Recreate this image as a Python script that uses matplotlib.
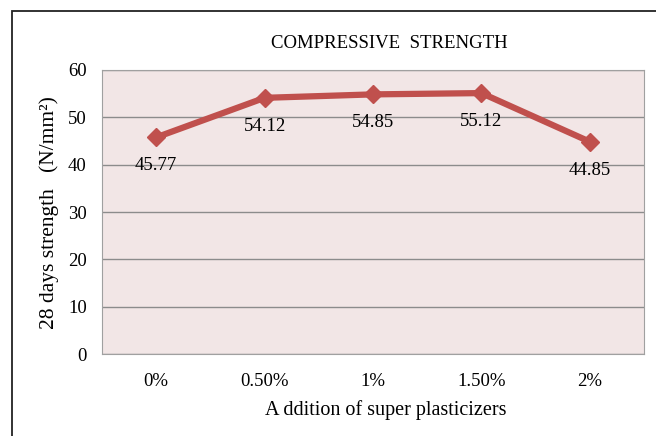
import matplotlib.pyplot as plt
from matplotlib.patches import Rectangle

categories = ["0%", "0.50%", "1%", "1.50%", "2%"]
strength = [45.77, 54.12, 54.85, 55.12, 44.85]
value_labels = ["45.77", "54.12", "54.85", "55.12", "44.85"]

plt.rcParams['font.family'] = ['Liberation Serif', 'DejaVu Serif']

fig = plt.figure(figsize=(6.56, 4.36), dpi=100)
ax = fig.add_axes([102/656, 1 - 354/436, 542/656, 284/436])

# outer chart border (top and left only visible)
fig.patches.append(Rectangle((12/656, -0.1), 1.2, 1 - 11/436 + 0.1,
                             transform=fig.transFigure, fill=False,
                             edgecolor='#222222', linewidth=1.3))

ax.set_facecolor('#f2e6e6')
x = list(range(len(categories)))
ax.plot(x, strength, color='#c0504d', linewidth=4.5, marker='D', markersize=9.5,
        zorder=3)
for xi, yi, lab in zip(x, strength, value_labels):
    ax.annotate(lab, (xi, yi), xytext=(0, -20.5), textcoords='offset points',
                ha='center', va='center', fontsize=13.5)

ax.set_xlim(-0.5, len(categories) - 0.5)
ax.set_ylim(0, 60)
ax.set_yticks(range(0, 61, 10))
ax.set_xticks(x)
ax.set_xticklabels(categories)
ax.yaxis.grid(True, color='#8c8c8c', linewidth=1)
ax.set_axisbelow(True)
ax.tick_params(axis='both', length=0)
ax.tick_params(axis='y', labelsize=13.5, pad=11)
ax.tick_params(axis='x', labelsize=13.5, pad=14)
for s in ['top', 'right', 'left', 'bottom']:
    ax.spines[s].set_color('#a0a0a0')

fig.text(389/656, 1 - 43/436, "COMPRESSIVE  STRENGTH", ha='center',
         va='center', fontsize=13.5)
fig.text(49/656, 1 - 213/436, "28 days strength   (N/mm²)", ha='center',
         va='center', rotation=90, fontsize=15.5)
fig.text(386/656, 1 - 410/436, "A ddition of super plasticizers", ha='center',
         va='center', fontsize=14.5)

plt.savefig("out.png", dpi=100)
